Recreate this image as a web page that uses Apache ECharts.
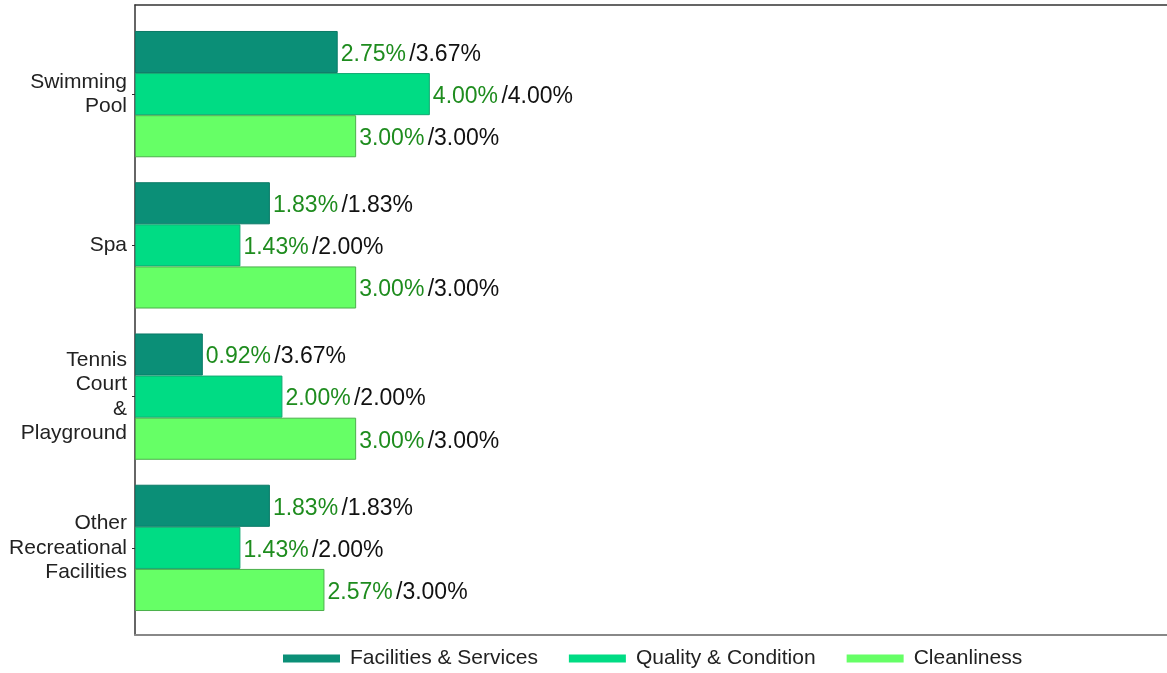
<!DOCTYPE html>
<html><head><meta charset="utf-8">
<script src="https://cdn.jsdelivr.net/npm/echarts@6/dist/echarts.min.js"></script>
<style>html,body{margin:0;padding:0;background:#fff}#c{width:1167px;height:673px}</style>
</head><body><div id="c"></div>
<script>
const categories = ['Swimming\nPool', 'Spa', 'Tennis\nCourt\n&\nPlayground', 'Other\nRecreational\nFacilities'];
const seriesNames = ['Facilities & Services', 'Quality & Condition', 'Cleanliness'];
const facilities = [2.75, 1.83, 0.92, 1.83];
const facilitiesMax = [3.67, 1.83, 3.67, 1.83];
const quality = [4.00, 1.43, 2.00, 1.43];
const qualityMax = [4.00, 2.00, 2.00, 2.00];
const cleanliness = [3.00, 3.00, 3.00, 2.57];
const cleanlinessMax = [3.00, 3.00, 3.00, 3.00];

const colors = ['#0b8f77', '#00dc84', '#66ff66'];
const borders = ['#0a7a66', '#12a872', '#4cb04c'];
const values = [facilities, quality, cleanliness];
const maxes = [facilitiesMax, qualityMax, cleanlinessMax];
const FONT = '"Liberation Sans", Arial, sans-serif';

const chart = echarts.init(document.getElementById('c'));
chart.setOption({
  animation: false,
  textStyle: { fontFamily: FONT },
  grid: [
    { left: 135, top: 18.5, bottom: 49.5, width: 1039.5 },
    { left: 135, top: 5, bottom: 38, width: 1039.5, show: false }
  ],
  xAxis: [
    { type: 'value', gridIndex: 0, min: 0, max: 14, show: false },
    { type: 'value', gridIndex: 1, min: 0, max: 14, position: 'top',
      axisLine: { show: true, onZero: false, lineStyle: { color: '#333', width: 1.5 } },
      axisTick: { show: false }, axisLabel: { show: false }, splitLine: { show: false } },
    { type: 'value', gridIndex: 1, min: 0, max: 14, position: 'bottom',
      axisLine: { show: true, onZero: false, lineStyle: { color: '#888', width: 2 } },
      axisTick: { show: false }, axisLabel: { show: false }, splitLine: { show: false } }
  ],
  yAxis: [
    { type: 'category', gridIndex: 0, data: categories, inverse: true,
      axisLine: { show: false },
      axisTick: { show: true, alignWithLabel: true, length: 3, lineStyle: { color: '#333' } },
      axisLabel: { color: '#222', fontSize: 21, lineHeight: 24.5, align: 'right', margin: 8, fontFamily: FONT } },
    { type: 'value', gridIndex: 1, min: 0, max: 1, position: 'left',
      axisLine: { show: true, onZero: false, lineStyle: { color: '#333', width: 1.5 } },
      axisTick: { show: false }, axisLabel: { show: false }, splitLine: { show: false } }
  ],
  legend: {
    top: 643, left: 278,
    itemWidth: 57, itemHeight: 8, itemGap: 31,
    icon: 'rect',
    itemStyle: { borderWidth: 0 },
    textStyle: { fontSize: 21, color: '#222', fontFamily: FONT, padding: [0, 0, 0, 5] },
    data: seriesNames
  },
  series: seriesNames.map((name, i) => ({
    name: name,
    type: 'bar',
    xAxisIndex: 0, yAxisIndex: 0,
    data: values[i],
    barGap: '0%',
    barCategoryGap: '16.5%',
    itemStyle: { color: colors[i], borderColor: borders[i], borderWidth: 1 },
    label: {
      show: true, position: 'right', distance: 3,
      formatter: p => '{a|' + p.value.toFixed(2) + '%} {b|/' + maxes[i][p.dataIndex].toFixed(2) + '%}',
      rich: {
        a: { color: '#1e8c1e', fontSize: 23, fontFamily: FONT, padding: [5, 0, 0, 0] },
        b: { color: '#111', fontSize: 23, fontFamily: FONT, padding: [5, 0, 0, 0] }
      }
    }
  }))
});
</script></body></html>
